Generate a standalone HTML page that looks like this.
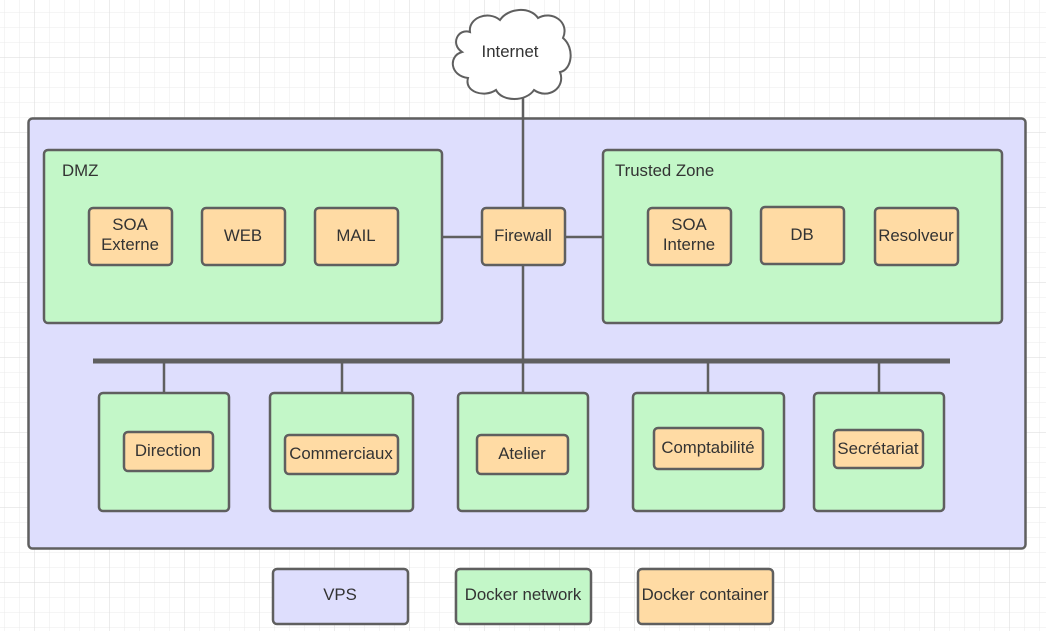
<!DOCTYPE html>
<html><head><style>
html,body{margin:0;padding:0;width:1046px;height:631px;overflow:hidden;background:#fff}
svg{display:block}
text{font-family:"Liberation Sans",sans-serif;font-size:16.8px;fill:#333}
</style></head><body>
<svg width="1046" height="631" viewBox="0 0 1046 631" xmlns="http://www.w3.org/2000/svg">
<defs>
<pattern id="g" x="4" y="12" width="15" height="15" patternUnits="userSpaceOnUse"><path d="M0 0H15M0 0V15" stroke="#ebebeb" stroke-width="1" fill="none"/></pattern>
<pattern id="G" x="34" y="57" width="75" height="75" patternUnits="userSpaceOnUse"><path d="M0 0H75M0 0V75" stroke="#dadada" stroke-width="1" fill="none"/></pattern>
</defs>
<rect width="1046" height="631" fill="url(#g)"/>
<rect width="1046" height="631" fill="url(#G)"/>
<g stroke="#5f5f5f" stroke-width="2.5">
<rect x="28.5" y="118.5" width="997" height="430" rx="4" fill="#dedefd"/>
<line x1="523" y1="95" x2="523" y2="361" />
<line x1="442" y1="237" x2="603" y2="237"/>
<rect x="44" y="150" width="398" height="173" rx="4" fill="#c3f7c8"/>
<rect x="603" y="150" width="399" height="173" rx="4" fill="#c3f7c8"/>
<g fill="#ffdba4">
<rect x="89" y="208" width="83" height="57" rx="4"/>
<rect x="202" y="208" width="83" height="57" rx="4"/>
<rect x="315" y="208" width="83" height="57" rx="4"/>
<rect x="482" y="208" width="83" height="57" rx="4"/>
<rect x="648" y="208" width="83" height="57" rx="4"/>
<rect x="761" y="207" width="83" height="57" rx="4"/>
<rect x="875" y="208" width="83" height="57" rx="4"/>
</g>
<line x1="93" y1="361" x2="950" y2="361" stroke-width="5"/>
<path d="M164 361V393M342 361V393M523 361V393M708 361V393M879 361V393"/>
<g fill="#c3f7c8">
<rect x="99" y="393" width="130" height="118" rx="4"/>
<rect x="270" y="393" width="143" height="118" rx="4"/>
<rect x="458" y="393" width="130" height="118" rx="4"/>
<rect x="633" y="393" width="151" height="118" rx="4"/>
<rect x="814" y="393" width="130" height="118" rx="4"/>
</g>
<g fill="#ffdba4">
<rect x="124" y="432" width="89" height="39" rx="4"/>
<rect x="285" y="435" width="113" height="39" rx="4"/>
<rect x="477" y="435" width="91" height="39" rx="4"/>
<rect x="654" y="428" width="109" height="41" rx="4"/>
<rect x="834" y="430" width="89" height="38" rx="4"/>
</g>
<rect x="273" y="569" width="135" height="55" rx="4" fill="#dedefd"/>
<rect x="456" y="569" width="135" height="55" rx="4" fill="#c3f7c8"/>
<rect x="638" y="569" width="135" height="55" rx="4" fill="#ffdba4"/>
<path fill="#fff" stroke-width="2" d="M470 32 C468 18 488 10 500 20 C508 8 530 6 538 18 C552 10 570 22 563 38 C575 48 572 70 560 72 C566 88 548 100 534 90 C526 102 502 102 496 90 C484 98 464 92 468 78 C450 76 448 56 462 52 C450 44 458 28 470 32 Z"/>
</g>
<g text-anchor="middle">
<text x="510" y="57">Internet</text>
<text x="130" y="230">SOA</text><text x="130" y="250">Externe</text>
<text x="243" y="241">WEB</text>
<text x="356" y="241">MAIL</text>
<text x="523" y="241">Firewall</text>
<text x="689" y="230">SOA</text><text x="689" y="250">Interne</text>
<text x="802" y="240">DB</text>
<text x="916" y="241">Resolveur</text>
<text x="168" y="456">Direction</text>
<text x="341" y="459">Commerciaux</text>
<text x="522" y="459">Atelier</text>
<text x="708" y="453">Comptabilité</text>
<text x="878" y="454">Secrétariat</text>
<text x="340" y="600">VPS</text>
<text x="523" y="600">Docker network</text>
<text x="705" y="600">Docker container</text>
</g>
<text x="62" y="176">DMZ</text>
<text x="615" y="176">Trusted Zone</text>
</svg>
</body></html>
